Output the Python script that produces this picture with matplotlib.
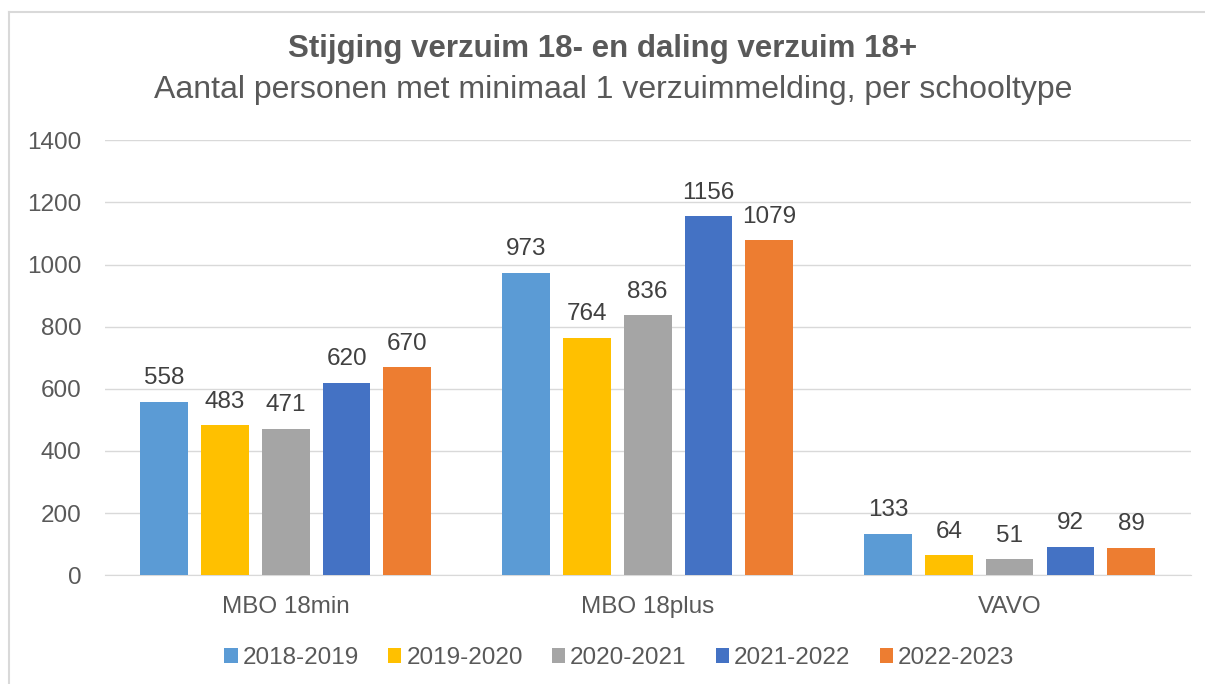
import matplotlib
matplotlib.use("Agg")
import matplotlib.pyplot as plt
import numpy as np
from matplotlib.lines import Line2D

plt.rcParams['font.family'] = ['Liberation Sans', 'DejaVu Sans']

categories = ["MBO 18min", "MBO 18plus", "VAVO"]
series_names = ["2018-2019", "2019-2020", "2020-2021", "2021-2022", "2022-2023"]
values = {
    "2018-2019": [558, 973, 133],
    "2019-2020": [483, 764, 64],
    "2020-2021": [471, 836, 51],
    "2021-2022": [620, 1156, 92],
    "2022-2023": [670, 1079, 89],
}
colors = ["#5B9BD5", "#FFC000", "#A5A5A5", "#4472C4", "#ED7D31"]
yticks = [0, 200, 400, 600, 800, 1000, 1200, 1400]

fig = plt.figure(figsize=(12.05, 6.84), dpi=100)
ax = fig.add_axes([0.087, 0.159, 0.901, 0.636])

x = np.arange(len(categories))
step = 0.168
width = 0.132
for i, name in enumerate(series_names):
    pos = x + (i - 2) * step
    bars = ax.bar(pos, values[name], width=width, color=colors[i], label=name, zorder=3)
    for b, v in zip(bars, values[name]):
        ax.text(b.get_x() + b.get_width() / 2, v + 40, str(v), ha="center", va="bottom",
                fontsize=17.5, color="#404040")

ax.set_xlim(-0.5, 2.5)
ax.set_ylim(0, 1400)
ax.set_yticks(yticks)
ax.set_yticklabels([str(t) for t in yticks], fontsize=17.5, color="#595959")
ax.set_xticks(x)
ax.set_xticklabels(categories, fontsize=17.5, color="#595959")
ax.tick_params(axis="y", length=0, pad=17)
ax.tick_params(axis="x", length=0, pad=15)
ax.grid(axis="y", color="#D9D9D9", linewidth=1, zorder=0)
for s in ["top", "right", "left"]:
    ax.spines[s].set_visible(False)
ax.spines["bottom"].set_color("#D9D9D9")

fig.text(0.5, 0.928, "Stijging verzuim 18- en daling verzuim 18+", ha="center", va="center",
         fontsize=22.5, fontweight="bold", color="#595959")
fig.text(0.509, 0.868, "Aantal personen met minimaal 1 verzuimmelding, per schooltype", ha="center",
         va="center", fontsize=23, color="#595959")

leg = fig.legend(loc="center", bbox_to_anchor=(0.514, 0.038), ncol=5, frameon=False,
                 fontsize=17.5, handlelength=0.55, handleheight=0.55, columnspacing=1.2,
                 handletextpad=0.2)
for t in leg.get_texts():
    t.set_color("#595959")

fig.add_artist(Line2D([8.5 / 1205, 8.5 / 1205], [0, 1 - 12 / 684], transform=fig.transFigure,
                      color="#D9D9D9", linewidth=1.5))
fig.add_artist(Line2D([8.5 / 1205, 1], [1 - 12 / 684, 1 - 12 / 684], transform=fig.transFigure,
                      color="#D9D9D9", linewidth=1.5))

fig.savefig("out.png", dpi=100)
